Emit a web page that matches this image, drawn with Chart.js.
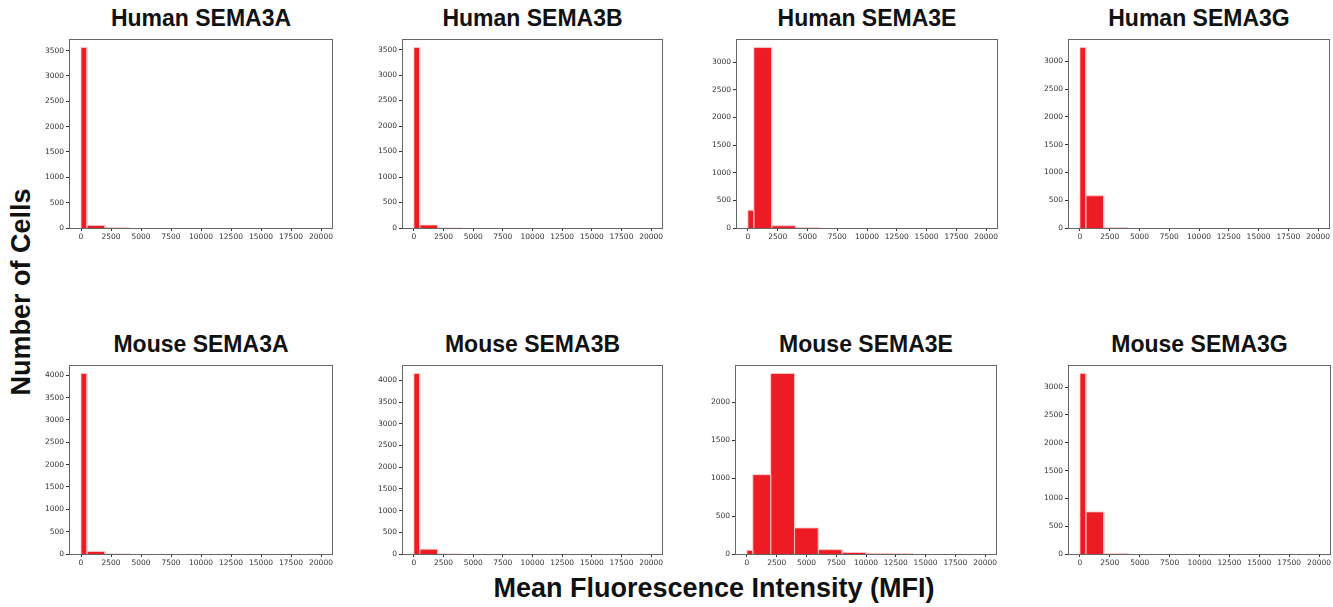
<!DOCTYPE html>
<html>
<head>
<meta charset="utf-8">
<script src="https://cdn.jsdelivr.net/npm/chart.js@4.4.1/dist/chart.umd.min.js"></script>
<style>
  body { margin: 0; background: #fff; }
  #page { position: relative; width: 1333px; height: 607px; overflow: hidden; font-family: 'Liberation Sans', Arial, sans-serif; }
  .box { position: absolute; }
  .ptitle { position: absolute; font-weight: bold; font-size: 23px; color: #111; text-align: center; white-space: nowrap; transform: translate(-50%, -50%); }
  .atitle { position: absolute; font-weight: bold; font-size: 27px; color: #111; white-space: nowrap; transform: translate(-50%, -50%); }
</style>
</head>
<body>
<div id="page">
  <div class="atitle" style="left:21px; top:292px; transform: translate(-50%, -50%) rotate(-90deg);">Number of Cells</div>
  <div class="atitle" style="left:714px; top:588px;">Mean Fluorescence Intensity (MFI)</div>
</div>
<script>
// histogram bins (MFI), shared by all panels
const binEdges = [0, 500, 2000, 4000, 6000, 8000, 10000, 12000, 14000, 16000, 18000, 20000];
const xTicks = [0, 2500, 5000, 7500, 10000, 12500, 15000, 17500, 20000];

// cell counts per bin
const humanSema3A = [3560, 50, 5, 0, 0, 0, 0, 0, 0, 0, 0];
const humanSema3B = [3540, 58, 2, 0, 0, 0, 0, 0, 0, 0, 0];
const humanSema3E = [320, 3262, 40, 5, 0, 0, 0, 0, 0, 0, 0];
const humanSema3G = [3250, 580, 5, 0, 0, 0, 0, 0, 0, 0, 0];
const mouseSema3A = [4040, 55, 2, 0, 0, 0, 0, 0, 0, 0, 0];
const mouseSema3B = [4160, 110, 2, 0, 0, 0, 0, 0, 0, 0, 0];
const mouseSema3E = [48, 1045, 2378, 343, 57, 20, 7, 3, 0, 0, 0];
const mouseSema3G = [3245, 757, 3, 0, 0, 0, 0, 0, 0, 0, 0];

const panels = [
  { title: 'Human SEMA3A', counts: humanSema3A, left: 69, top: 36, w: 264, h: 192 },
  { title: 'Human SEMA3B', counts: humanSema3B, left: 402, top: 36, w: 261, h: 192 },
  { title: 'Human SEMA3E', counts: humanSema3E, left: 736, top: 36, w: 262, h: 192 },
  { title: 'Human SEMA3G', counts: humanSema3G, left: 1068, top: 36, w: 262, h: 192 },
  { title: 'Mouse SEMA3A', counts: mouseSema3A, left: 69, top: 362, w: 264, h: 192 },
  { title: 'Mouse SEMA3B', counts: mouseSema3B, left: 402, top: 362, w: 261, h: 192 },
  { title: 'Mouse SEMA3E', counts: mouseSema3E, left: 735, top: 362, w: 262, h: 192 },
  { title: 'Mouse SEMA3G', counts: mouseSema3G, left: 1068, top: 362, w: 263, h: 192 },
];

const AXW = 45, AXH = 20, PAD = 4;

// outline of the histogram bars, as one polyline
const histPoints = (counts) => {
  const pts = [];
  counts.forEach((c, i) => {
    if (c <= 0) return;
    const lo = binEdges[i], hi = binEdges[i + 1];
    pts.push({ x: lo, y: 0 }, { x: lo, y: c }, { x: hi, y: c }, { x: hi, y: 0 });
  });
  return pts;
};

const frame = {
  id: 'frame',
  afterDatasetsDraw(chart) {
    const { ctx, chartArea: a } = chart;
    ctx.save();
    ctx.strokeStyle = '#666';
    ctx.lineWidth = 1;
    ctx.strokeRect(Math.round(a.left) + 0.5, Math.round(a.top) + 0.5, Math.round(a.right - a.left) - 1, Math.round(a.bottom - a.top) - 1);
    ctx.restore();
  },
};

const page = document.getElementById('page');
const tickFont = { family: 'DejaVu Sans', size: 7.5 };

panels.forEach((p) => {
  const t = document.createElement('div');
  t.className = 'ptitle';
  t.style.left = (p.left + p.w / 2) + 'px';
  t.style.top = (p.top - 18) + 'px';
  t.textContent = p.title;
  page.appendChild(t);

  const box = document.createElement('div');
  box.className = 'box';
  box.style.left = (p.left - AXW) + 'px';
  box.style.top = (p.top - PAD) + 'px';
  box.style.width = (p.w + AXW + PAD) + 'px';
  box.style.height = (p.h + AXH + PAD) + 'px';
  const cv = document.createElement('canvas');
  box.appendChild(cv);
  page.appendChild(box);

  const ymax = Math.max(...p.counts) * 1.05;
  const yTicks = [];
  for (let v = 0; v <= ymax; v += 500) yTicks.push(v);

  new Chart(cv, {
    type: 'scatter',
    data: {
      datasets: [{
        data: histPoints(p.counts),
        showLine: true,
        fill: 'origin',
        backgroundColor: '#ED1C24',
        borderColor: 'rgba(255,200,200,0.85)',
        borderWidth: 1,
        pointRadius: 0,
        tension: 0,
      }],
    },
    options: {
      responsive: true,
      maintainAspectRatio: false,
      animation: false,
      layout: { padding: { top: PAD, right: PAD, left: 0, bottom: 0 } },
      plugins: { legend: { display: false }, tooltip: { enabled: false } },
      scales: {
        x: {
          type: 'linear',
          min: -1000,
          max: 21000,
          afterBuildTicks: (axis) => { axis.ticks = xTicks.map((v) => ({ value: v })); },
          afterFit: (axis) => { axis.height = AXH; },
          grid: { drawOnChartArea: false, tickLength: 3, color: '#333' },
          border: { display: false },
          ticks: { font: tickFont, color: '#333', padding: 2, maxRotation: 0, autoSkip: false, callback: (v) => String(v) },
        },
        y: {
          type: 'linear',
          min: 0,
          max: ymax,
          afterBuildTicks: (axis) => { axis.ticks = yTicks.map((v) => ({ value: v })); },
          afterFit: (axis) => { axis.width = AXW; },
          grid: { drawOnChartArea: false, tickLength: 3, color: '#333' },
          border: { display: false },
          ticks: { font: tickFont, color: '#333', padding: 2, autoSkip: false, callback: (v) => String(v) },
        },
      },
    },
    plugins: [frame],
  });
});
</script>
</body>
</html>
